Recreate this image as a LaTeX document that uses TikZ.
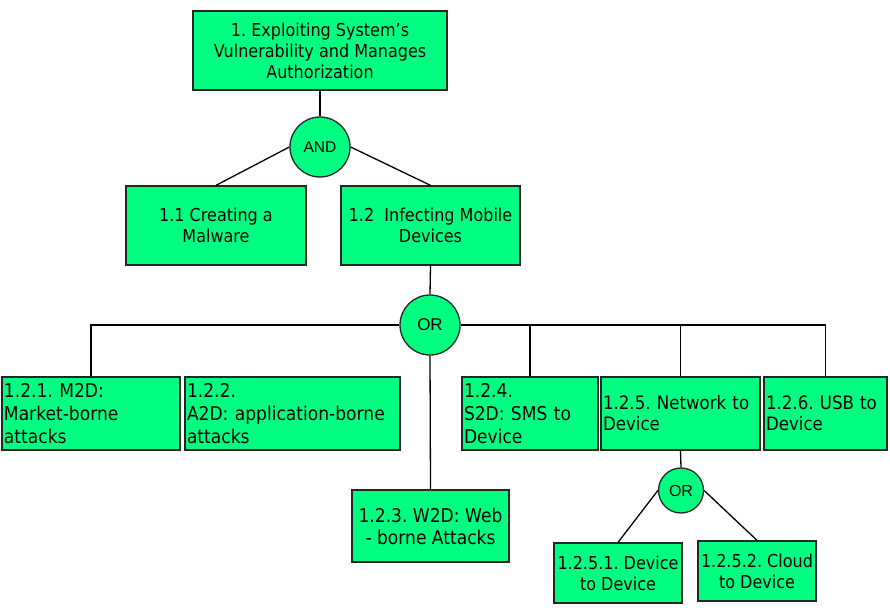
\documentclass[tikz,border=0pt]{standalone}
\usepackage{fontspec}
\setmainfont{DejaVu Sans}[FakeStretch=0.9]
\newfontfamily\gatefont{Liberation Sans}
\definecolor{leafgreen}{RGB}{0,255,128}
\definecolor{edgegray}{gray}{.15}
\newcommand{\heightgoal}{79pt}
\newcommand{\heightleaf}{73pt}
\frenchspacing
\tikzset{
    common/.style={draw=edgegray, fill=leafgreen, rectangle, line width=1.3pt, inner sep=0pt},
    goal/.style={common, align=center, font=\fontsize{17.8}{21}\selectfont},
    leaf/.style={common, align=left, minimum height=\heightleaf, font=\fontsize{19}{23}\selectfont},
    gate/.style={draw=edgegray, fill=leafgreen, circle, line width=1.3pt, inner sep=0pt},
    link/.style={line width=1.3pt}
}
\begin{document}
\begin{tikzpicture}[x=1pt, y=-1pt]
    \useasboundingbox (0,0) rectangle (890,607);

    % top of the tree
    \node[goal, minimum width=254pt, minimum height=\heightgoal] (root) at (320,50.5) {1. Exploiting System's\\Vulnerability and Manages\\Authorization};
    \node[gate, minimum size=60pt, font=\gatefont\fontsize{15.5}{18}\selectfont] (and) at (320,147) {AND};
    \node[goal, minimum width=180pt, minimum height=\heightgoal] (malware) at (216,225.5) {1.1 Creating a\\Malware};
    \node[goal, minimum width=179pt, minimum height=\heightgoal] (infect) at (430.5,225.5) {1.2\ \ Infecting Mobile\\Devices};
    \node[gate, minimum size=60pt, font=\gatefont\fontsize{17}{20}\selectfont] (or) at (430,325) {OR};

    % infection vectors
    \node[leaf, minimum width=178pt, text width=174pt] (m2d) at (91,413.5) {1.2.1. M2D:\\Market-borne\\attacks};
    \node[leaf, minimum width=215pt, text width=211pt] (a2d) at (292.5,413.5) {1.2.2.\\A2D: application-borne\\attacks};
    \node[leaf, minimum width=136pt, text width=132pt] (s2d) at (530,413.5) {1.2.4.\\S2D: SMS to\\Device};
    \node[leaf, minimum width=159pt, text width=155pt, font=\fontsize{18.5}{21}\selectfont] (n2d) at (680.5,413.5) {1.2.5. Network to\\Device};
    \node[leaf, minimum width=123pt, text width=119pt, font=\fontsize{18.5}{21}\selectfont] (usb) at (825.5,413.5) {1.2.6. USB to\\Device};
    \node[goal, minimum width=157pt, minimum height=72pt, font=\fontsize{19}{22}\selectfont] (w2d) at (430.5,526) {1.2.3. W2D: Web\\- borne Attacks};

    % network branch
    \node[gate, minimum size=45pt, font=\gatefont\fontsize{16}{19}\selectfont] (or2) at (681,490.5) {OR};
    \node[goal, minimum width=128pt, minimum height=60pt] (d2d) at (618,573) {1.2.5.1. Device\\to Device};
    \node[goal, minimum width=118pt, minimum height=60pt] (c2d) at (757,571) {1.2.5.2. Cloud\\to Device};

    \draw[link] (root.south) -- (and.north);
    \draw[link] (and.west) -- (malware.north);
    \draw[link] (and.east) -- (infect.north);
    \draw[link] (infect.south) -- (or.north);
    \draw[link] (or.west) -| (m2d.north);
    \draw[link] (or.east) -| (usb.north);
    \draw[link] (s2d.north) -- (s2d.north |- or.east);
    \draw[link] (n2d.north) -- (n2d.north |- or.east);
    \draw[link] (or.south) -- (w2d.north);
    \draw[link] (n2d.south) -- (or2.north);
    \draw[link] (or2.west) -- (d2d.north);
    \draw[link] (or2.east) -- (c2d.north);
\end{tikzpicture}
\end{document}
